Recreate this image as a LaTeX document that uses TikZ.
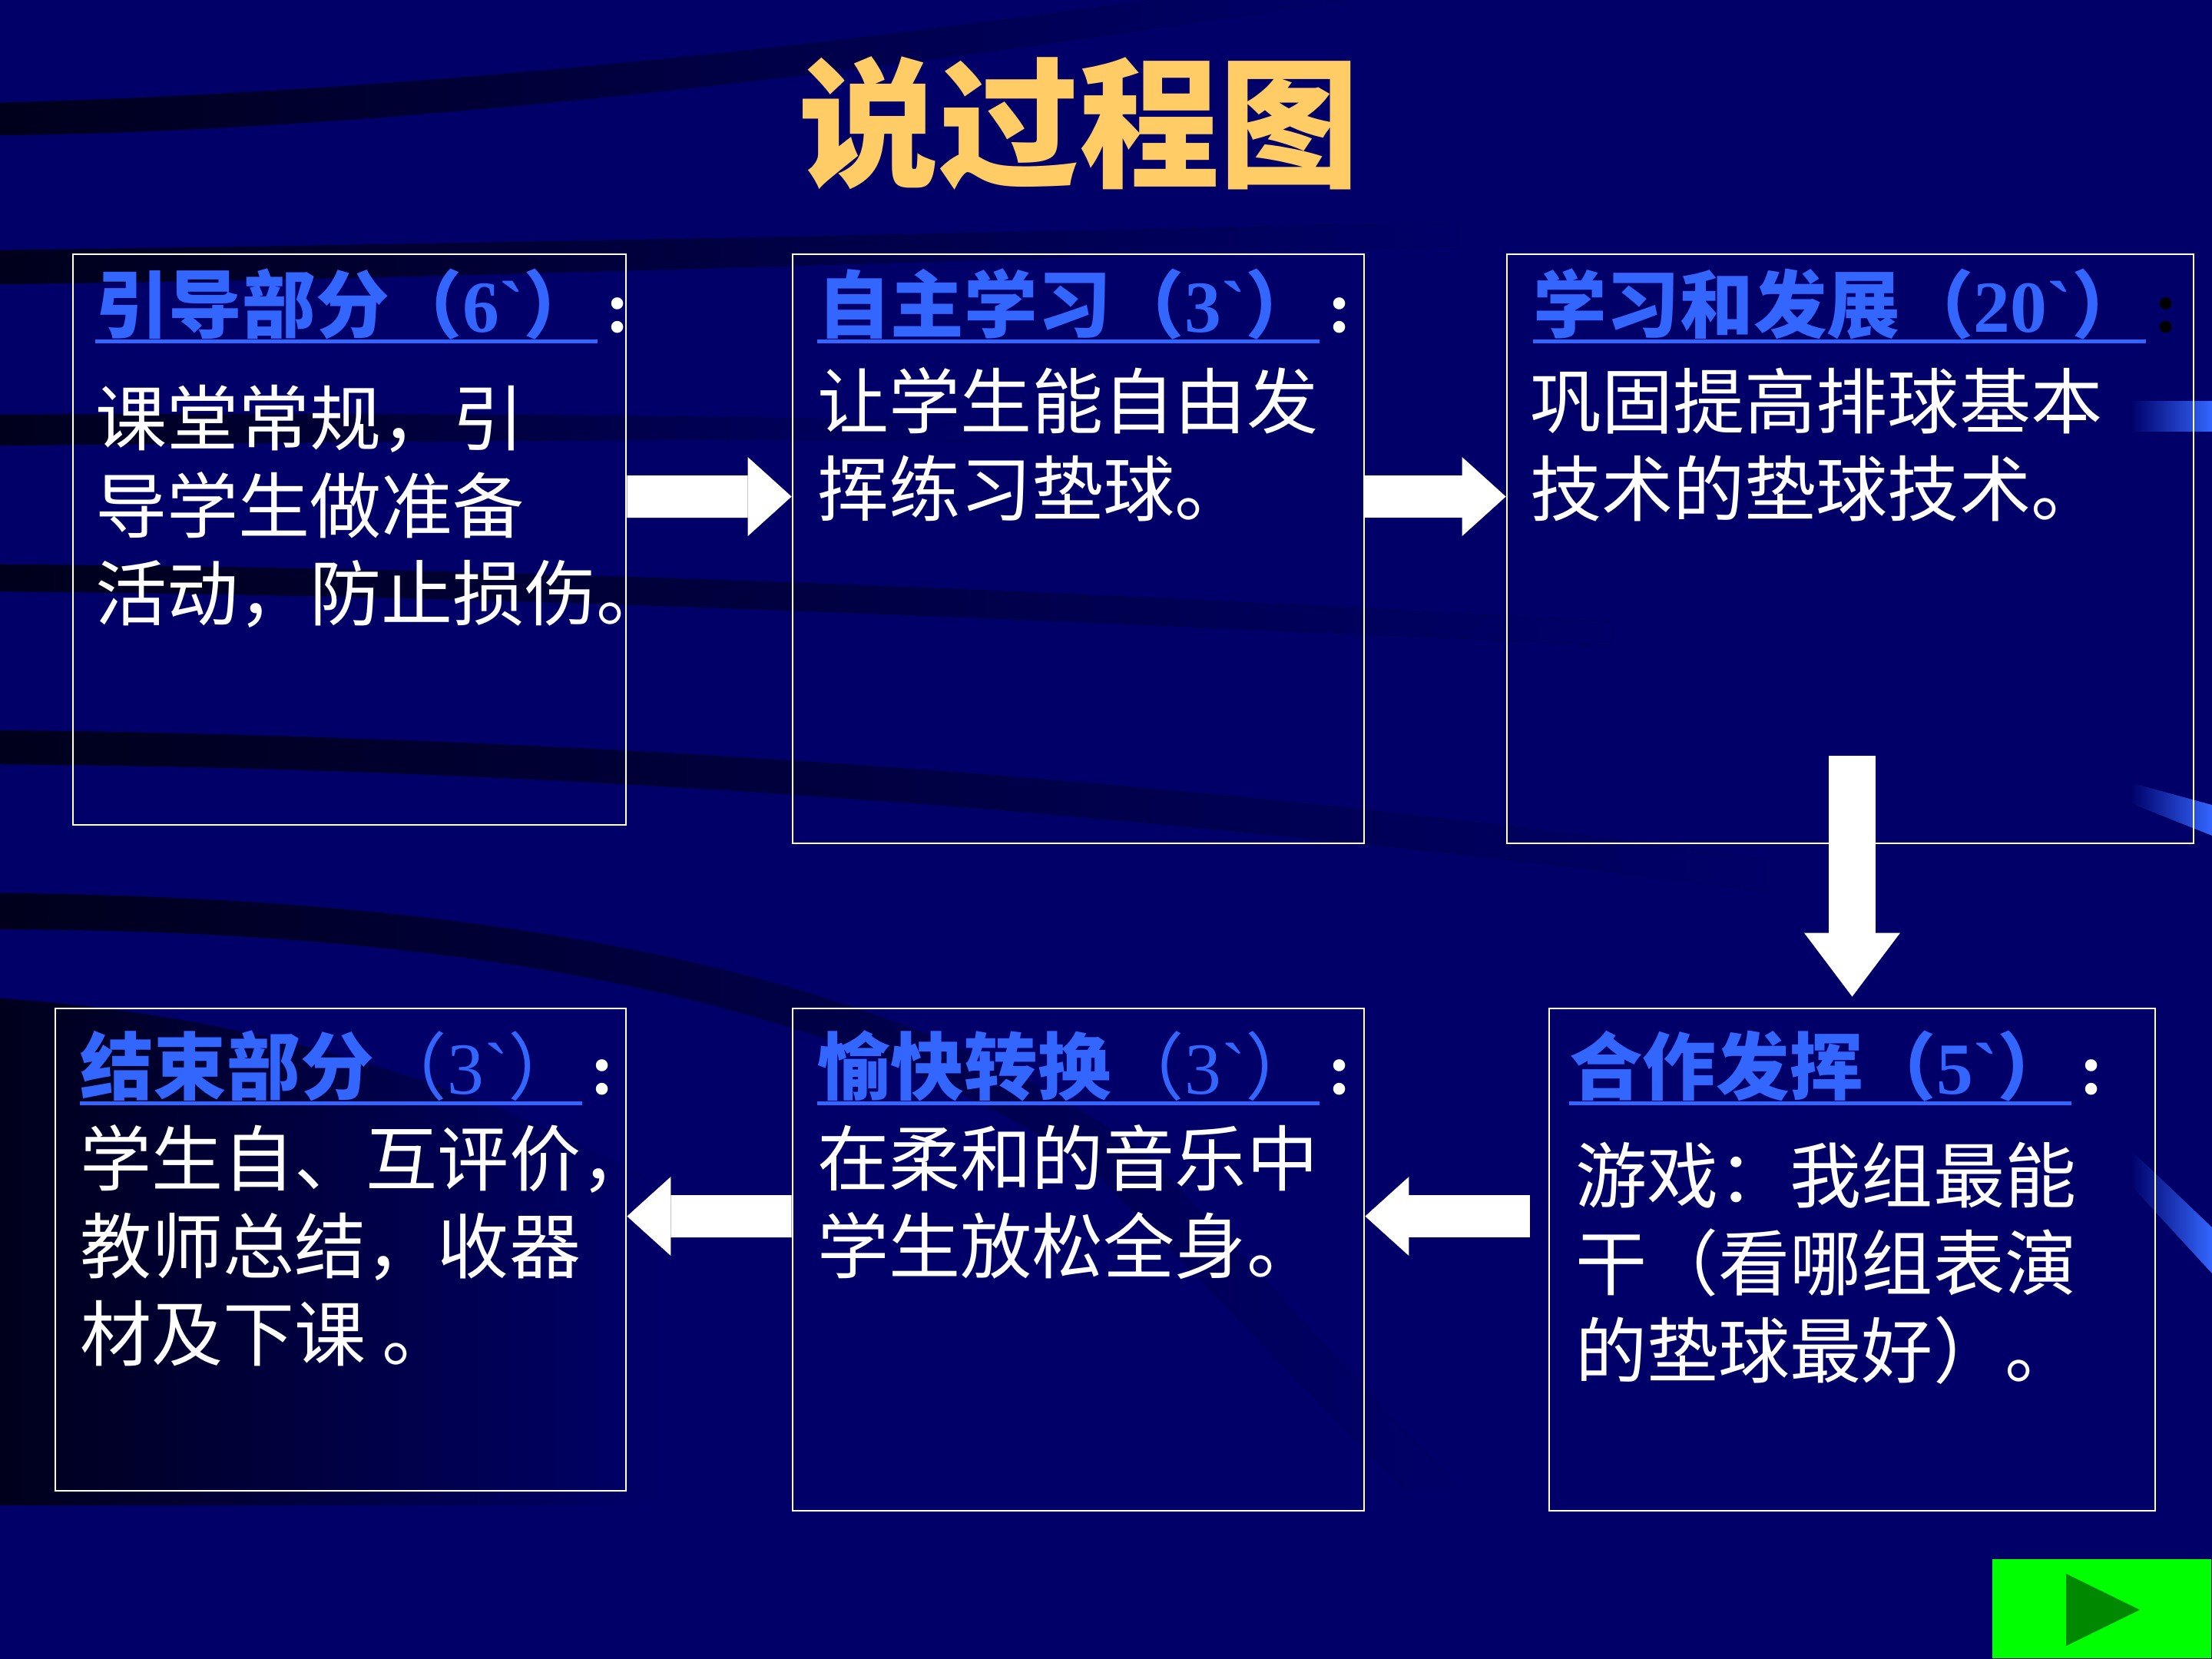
\documentclass[tikz,border=0pt]{standalone}
\usepackage{fontspec}
\newfontfamily\cjk{Noto Sans CJK SC}
\newfontfamily\latinf{Liberation Serif}
\usetikzlibrary{arrows.meta, positioning}
\definecolor{SlideNavy}{HTML}{000068}
\definecolor{SlideDark}{HTML}{00001C}
\definecolor{HeadBlue}{HTML}{3366FF}
\definecolor{TitleGold}{HTML}{FFCC66}
\definecolor{NextGreen}{HTML}{00FF00}
\definecolor{NextDark}{HTML}{008800}

\tikzset{
  stagebox/.style={draw=white, line width=0.8pt, inner sep=0pt},
  stagehead/.style={font=\cjk\bfseries\fontsize{27.2}{32}\selectfont,
    text=HeadBlue, inner sep=0pt, anchor=base west},
  stagetext/.style={font=\cjk\fontsize{26.5}{32.4}\selectfont,
    text=white, inner sep=0pt, align=left, anchor=base west},
  headcolon/.style={font=\latinf\bfseries\fontsize{27.2}{32}\selectfont,
    text=white, inner sep=0pt, anchor=base west},
  headline/.style={draw=HeadBlue, line width=1.4pt},
  flowarrow/.style={draw=white, line width=0.55cm,
    -{Triangle[length=0.57cm, width=1.03cm, line width=0pt]}},
  downarrow/.style={draw=white, line width=0.61cm,
    -{Triangle[length=0.83cm, width=1.25cm, line width=0pt]}},
  band/.style={left color=SlideDark, right color=SlideNavy}
}

\begin{document}
\begin{tikzpicture}
\useasboundingbox (0,0) rectangle (28.8,21.6);
% background and streaks
\fill[SlideNavy] (0,0) rectangle (28.8,21.6);
\fill[band] (0,20.26) .. controls (5,20.4) and (10,20.9) .. (15,21.6)
  -- (17.5,21.6) .. controls (11,20.6) and (5,19.9) .. (0,19.84) -- cycle;
\fill[band] (0,18.34) .. controls (6,18.42) and (12,18.55) .. (19,18.7)
  -- (19,18.4) .. controls (12,18.2) and (6,17.98) .. (0,17.9) -- cycle;
\fill[band] (0,16.2) .. controls (5,16.22) and (9,16.2) .. (13,16.1)
  -- (13,15.85) .. controls (9,15.9) and (5,15.85) .. (0,15.8) -- cycle;
\fill[band] (0,14.25) .. controls (7,14.2) and (14,13.9) .. (21,13.5)
  -- (21,13.2) .. controls (14,13.5) and (7,13.85) .. (0,13.9) -- cycle;
\fill[band] (0,12.09) .. controls (8,12.0) and (16,11.4) .. (23,10.4)
  -- (23,10.0) .. controls (16,10.9) and (8,11.6) .. (0,11.65) -- cycle;
\fill[band] (0,9.97) .. controls (7,9.9) and (12,8.8) .. (15,6.5)
  -- (19,2.2) -- (18.3,2.2) -- (14.2,6.4) .. controls (11,8.6) and (6,9.5) .. (0,9.5) -- cycle;
\fill[left color=SlideDark, right color=SlideNavy]
  (0,8.6) .. controls (3,8.4) and (6,7.6) .. (8.5,6.2) -- (8.5,2) -- (0,2) -- cycle;
% blue glints on the right edge
\fill[left color=SlideNavy, right color=HeadBlue] (27.74,16.37) rectangle (28.8,15.98);
\fill[left color=SlideNavy, right color=HeadBlue]
  (27.74,11.41) -- (28.8,11.12) -- (28.8,10.72) -- (27.74,11.14) -- cycle;
\fill[left color=SlideNavy, right color=HeadBlue]
  (27.74,6.63) -- (28.8,5.62) -- (28.8,5.02) -- (27.74,6.17) -- cycle;

% title
\node[font=\cjk\bfseries\fontsize{52}{60}\selectfont, text=TitleGold] (title)
  at (14.05,19.99) {说过程图};

% stage boxes
\node[stagebox, minimum width=7.20cm, minimum height=7.43cm] (b1) at (4.55,14.575) {};
\node[stagebox, minimum width=7.44cm, minimum height=7.67cm] (b2) at (14.04,14.455) {};
\node[stagebox, minimum width=8.94cm, minimum height=7.67cm] (b3) at (24.09,14.455) {};
\node[stagebox, minimum width=7.43cm, minimum height=6.28cm] (b4) at (4.435,5.33) {};
\node[stagebox, minimum width=7.44cm, minimum height=6.54cm] (b5) at (14.04,5.20) {};
\node[stagebox, minimum width=7.89cm, minimum height=6.54cm] (b6) at (24.115,5.20) {};

% arrows between stages
\draw[flowarrow] ([yshift=-3.17cm]b1.north east) -- ([yshift=-3.17cm]b2.north west);
\draw[flowarrow] ([yshift=-3.17cm]b2.north east) -- ([yshift=-3.17cm]b3.north west);
\draw[downarrow] ([yshift=1.15cm]b6.north |- b3.south) -- ([yshift=0.14cm]b6.north);
\draw[flowarrow] ([xshift=-0.24cm, yshift=-2.72cm]b6.north west) -- ([yshift=-2.72cm]b5.north east);
\draw[flowarrow] ([yshift=-2.72cm]b5.north west) -- ([yshift=-2.72cm]b4.north east);

% headings
\node[stagehead] (h1) at ([shift={(0.30,-1.03)}]b1.north west)
  {引导部分（{\latinf 6\textasciigrave}）};
\node[stagehead] (h2) at ([shift={(0.33,-1.03)}]b2.north west)
  {自主学习（{\latinf 3\textasciigrave}）};
\node[stagehead] (h3) at ([shift={(0.35,-1.03)}]b3.north west)
  {学习和发展（{\latinf 20\textasciigrave}）};
\node[stagehead] (h4) at ([shift={(0.33,-1.13)}]b4.north west)
  {结束部分{\mdseries （{\latinf 3\textasciigrave}）}};
\node[stagehead] (h5) at ([shift={(0.33,-1.13)}]b5.north west)
  {愉快转换{\mdseries （{\latinf 3\textasciigrave}）}};
\node[stagehead] (h6) at ([shift={(0.27,-1.13)}]b6.north west)
  {合作发挥（{\latinf 5\textasciigrave}）};
\foreach \h in {h1,h2,h3,h4,h5,h6}
  \draw[headline] ([yshift=-0.12cm]\h.base west) -- ([yshift=-0.12cm]\h.base east);
\node[headcolon, right=0.1cm of h1.base east, anchor=base west] (c1) {:};
\node[headcolon, right=0.1cm of h2.base east, anchor=base west] (c2) {:};
\node[headcolon, right=0.1cm of h3.base east, anchor=base west, text=black] (c3) {:};
\node[headcolon, right=0.1cm of h4.base east, anchor=base west] (c4) {:};
\node[headcolon, right=0.1cm of h5.base east, anchor=base west] (c5) {:};
\node[headcolon, right=0.1cm of h6.base east, anchor=base west] (c6) {:};

% stage texts (base anchor sits on the last line)
\node[stagetext] (t1) at ([shift={(0.30,-4.78)}]b1.north west)
  {课堂常规，引\\导学生做准备\\活动，防止损伤。};
\node[stagetext] (t2) at ([shift={(0.33,-3.42)}]b2.north west)
  {让学生能自由发\\挥练习垫球。};
\node[stagetext] (t3) at ([shift={(0.31,-3.42)}]b3.north west)
  {巩固提高排球基本\\技术的垫球技术。};
\node[stagetext] (t4) at ([shift={(0.33,-4.60)}]b4.north west)
  {学生自、互评价，\\教师总结，收器\\材及下课 。};
\node[stagetext] (t5) at ([shift={(0.33,-3.46)}]b5.north west)
  {在柔和的音乐中\\学生放松全身。};
\node[stagetext] (t6) at ([shift={(0.35,-4.82)}]b6.north west)
  {游戏：我组最能\\干（看哪组表演\\的垫球最好）。};

% next button
\node[fill=NextGreen, minimum width=2.85cm, minimum height=1.29cm, inner sep=0pt,
      anchor=south east] (next) at (28.8,0) {};
\fill[NextDark] (26.90,1.11) -- (27.86,0.64) -- (26.90,0.17) -- cycle;
\end{tikzpicture}
\end{document}
